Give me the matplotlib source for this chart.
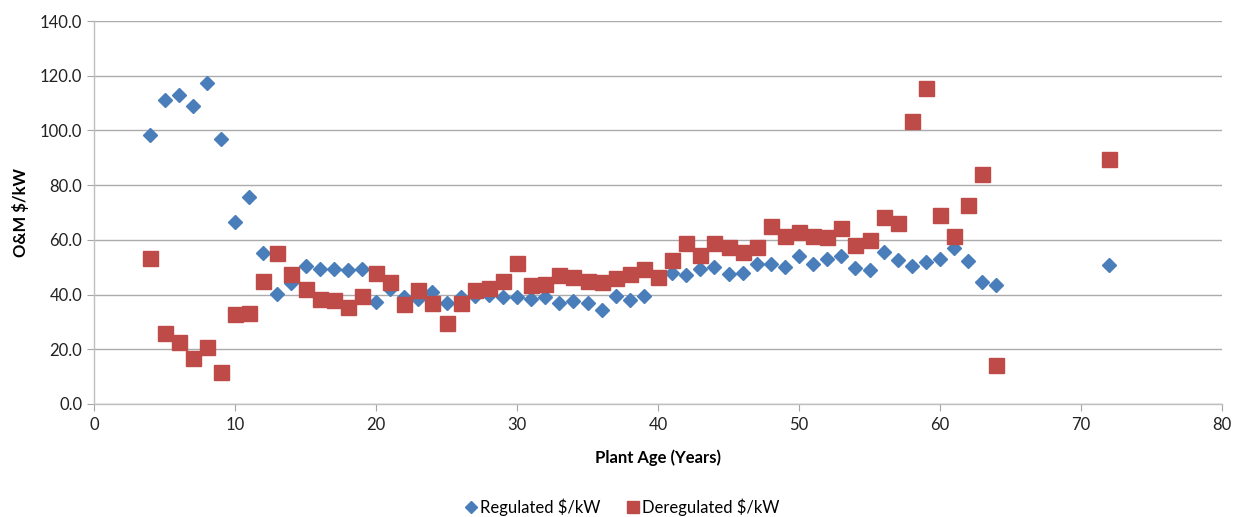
import matplotlib
matplotlib.use("Agg")
import matplotlib.pyplot as plt
from matplotlib.ticker import FormatStrFormatter, MultipleLocator

plt.rcParams['font.family'] = ['Lato', 'DejaVu Sans']

reg_age = [4, 5, 6, 7, 8, 9, 10, 11, 12, 13, 14, 15, 16, 17, 18, 19, 20, 21, 22, 23, 24,
           25, 26, 27, 28, 29, 30, 31, 32, 33, 34, 35, 36, 37, 38, 39, 40, 41, 42, 43, 44,
           45, 46, 47, 48, 49, 50, 51, 52, 53, 54, 55, 56, 57, 58, 59, 60, 61, 62, 63, 64, 72]
reg_val = [98.4, 111.0, 113.0, 109.0, 117.2, 96.8, 66.5, 75.7, 55.1, 40.3, 44.2, 50.3, 49.2,
           49.2, 49.0, 49.4, 37.2, 42.0, 39.0, 38.5, 41.0, 37.0, 39.0, 39.5, 40.0, 39.0, 39.0,
           38.5, 39.0, 37.0, 37.5, 37.0, 34.5, 39.5, 38.0, 39.5, 46.5, 48.0, 47.0, 49.5, 50.0,
           47.5, 48.0, 51.0, 51.0, 50.0, 54.0, 51.0, 53.0, 54.2, 49.8, 49.0, 55.4, 52.6, 50.6,
           51.8, 53.0, 57.1, 52.3, 44.5, 43.4, 50.7]

dereg_age = reg_age
dereg_val = [53.5, 25.8, 22.5, 16.9, 20.9, 11.6, 33.0, 33.4, 45.1, 55.3, 47.6, 42.2, 38.5,
             38.0, 35.6, 39.5, 47.8, 44.5, 36.5, 41.5, 37.0, 29.5, 37.0, 41.5, 42.5, 45.0,
             51.5, 43.5, 44.0, 47.0, 46.5, 45.0, 44.5, 46.0, 47.5, 49.5, 46.5, 52.5, 59.0,
             54.5, 59.0, 57.5, 55.5, 57.5, 65.0, 61.5, 63.0, 61.5, 61.0, 64.2, 58.0, 59.9,
             68.5, 66.0, 103.4, 115.4, 69.0, 61.5, 72.6, 84.0, 14.1, 89.4]

fig = plt.figure(figsize=(12.35, 5.17), dpi=100)
ax = fig.add_axes([94/1235, 1-404/517, (1222-94)/1235, (404-21)/517])

ax.plot(reg_age, reg_val, linestyle='none', marker='D', ms=7.6, color='#4A7EBB',
        mec='#4A7EBB', label='Regulated \\$/kW', zorder=3)
ax.plot(dereg_age, dereg_val, linestyle='none', marker='s', ms=10.8, color='#BE4B48',
        mec='#BE4B48', label='Deregulated \\$/kW', zorder=3)

ax.set_xlim(0, 80)
ax.set_ylim(0, 140)
ax.xaxis.set_major_locator(MultipleLocator(10))
ax.yaxis.set_major_locator(MultipleLocator(20))
ax.yaxis.set_major_formatter(FormatStrFormatter('%.1f'))
ax.grid(axis='y', color='#ABABAB', linewidth=1)
ax.set_axisbelow(True)
for s in ['top', 'right']:
    ax.spines[s].set_visible(False)
for s in ['left', 'bottom']:
    ax.spines[s].set_color('#BFBFBF')
    ax.spines[s].set_linewidth(1)
ax.tick_params(axis='both', colors='#A6A6A6', labelcolor='#222222', labelsize=12,
               length=5, direction='out')
ax.tick_params(axis='x', pad=4)

ax.set_xlabel('Plant Age (Years)', fontsize=12, fontweight='bold', labelpad=12)
ax.set_ylabel('O&M \\$/kW', fontsize=12, fontweight='bold', labelpad=8)

leg = fig.legend(loc='center', bbox_to_anchor=(618.5/1235, 1-507/517), ncol=2, frameon=False,
                 fontsize=12, handletextpad=-0.25, columnspacing=1.15, markerscale=0.8,
                 handlelength=1.6)
fig.savefig('out.png', dpi=100)
